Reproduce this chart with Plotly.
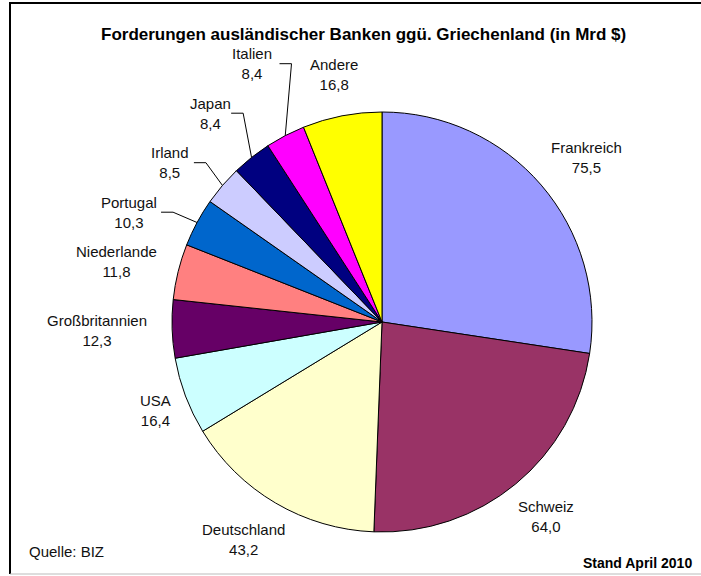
import math
import plotly.graph_objects as go

laender = ["Frankreich", "Schweiz", "Deutschland", "USA", "Großbritannien",
           "Niederlande", "Portugal", "Irland", "Japan", "Italien", "Andere"]
werte = [75.5, 64.0, 43.2, 16.4, 12.3, 11.8, 10.3, 8.5, 8.4, 8.4, 16.8]
farben = ["#9999FF", "#993366", "#FFFFCC", "#CCFFFF", "#660066", "#FF8080",
          "#0066CC", "#CCCCFF", "#000080", "#FF00FF", "#FFFF00"]

titel = "Forderungen ausländischer Banken ggü. Griechenland (in Mrd $)"
quelle = "Quelle: BIZ"
stand = "Stand April 2010"

W, H = 701, 576
CX, CY, R = 382, 322, 210
FONT = "Liberation Sans, Arial, sans-serif"


def to_paper(px, py):
    return px / W, 1 - py / H


def fmt(v):
    return f"{v:.1f}".replace(".", ",")


fig = go.Figure(go.Pie(
    labels=laender, values=werte, sort=False, direction="clockwise", rotation=0,
    marker=dict(colors=farben, line=dict(color="black", width=1)),
    textinfo="none", showlegend=False,
    domain=dict(x=[(CX - R) / W, (CX + R) / W], y=[1 - (CY + R) / H, 1 - (CY - R) / H]),
))

# labels outside the pie, placed from the slice angles;
# small slices get stacked labels with leader lines
total = sum(werte)
cum = 0
prev_y = None
for name, v in zip(laender, werte):
    mid = (cum + v / 2) / total * 2 * math.pi
    cum += v
    s, c = math.sin(mid), math.cos(mid)
    leader = v < 11
    r = R * (1.22 if leader else 1.1)
    px, py = CX + r * s, CY - r * c
    w, h = len(name) * 7.7, 42
    lx, ly = px + s * w / 2, py - c * h / 2
    if leader and prev_y is not None:
        ly = prev_y - 49.5
    prev_y = ly
    x, y = to_paper(lx, ly)
    fig.add_annotation(x=x, y=y, xref="paper", yref="paper", text=f"{name}<br>{fmt(v)}",
                       showarrow=False, xanchor="center", yanchor="middle",
                       font=dict(family=FONT, size=15, color="#111111"))
    if leader:
        ex, ey = CX + R * s, CY - R * c
        a = to_paper(lx + w / 2 + 1, ly)
        b = to_paper(lx + w / 2 + 13, ly)
        e = to_paper(ex, ey)
        fig.add_shape(type="path", xref="paper", yref="paper",
                      path=f"M {a[0]},{a[1]} L {b[0]},{b[1]} L {e[0]},{e[1]}",
                      line=dict(color="black", width=1))

# frame: black left and top edge, light grey bottom edge
x0, y_top, y_bot = 10 / W, 1 - 3 / H, 1 - 574 / H
fig.add_shape(type="path", xref="paper", yref="paper",
              path=f"M {x0},{y_bot} L {x0},{y_top} L 1.02,{y_top}",
              line=dict(color="black", width=2), layer="below")
fig.add_shape(type="line", xref="paper", yref="paper",
              x0=x0, x1=1.02, y0=y_bot, y1=y_bot,
              line=dict(color="#BBBBBB", width=1), layer="below")

fig.add_annotation(x=363 / W, y=1 - 34 / H, xref="paper", yref="paper", text=f"<b>{titel}</b>",
                   showarrow=False, xanchor="center", yanchor="middle",
                   font=dict(family=FONT, size=17, color="black"))
fig.add_annotation(x=27 / W, y=1 - 551 / H, xref="paper", yref="paper", text=quelle,
                   showarrow=False, xanchor="left", yanchor="middle",
                   font=dict(family=FONT, size=15, color="#111111"))
fig.add_annotation(x=694 / W, y=1 - 563 / H, xref="paper", yref="paper", text=f"<b>{stand}</b>",
                   showarrow=False, xanchor="right", yanchor="middle",
                   font=dict(family=FONT, size=14, color="black"))

fig.update_layout(
    width=W, height=H,
    margin=dict(l=0, r=0, t=0, b=0),
    paper_bgcolor="white", plot_bgcolor="white",
    font=dict(family=FONT),
)

# drop the page's default body margin so the figure sits at the window corner
fig.write_html("out.html", config={"displayModeBar": False},
               post_script="document.body.style.margin='0';")
